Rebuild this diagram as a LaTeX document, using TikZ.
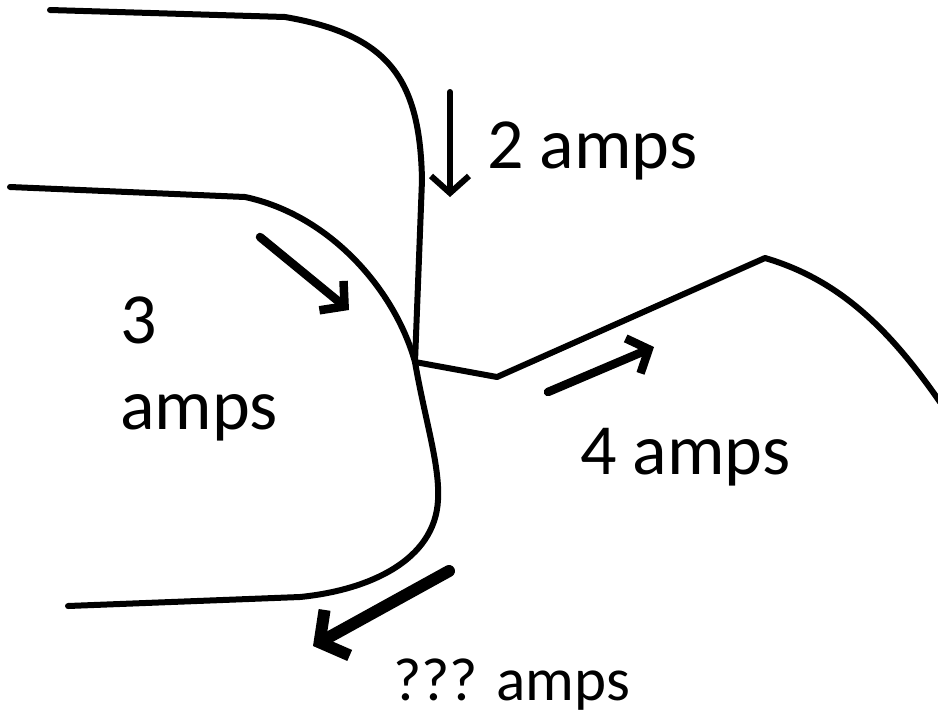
\documentclass[tikz,border=0pt]{standalone}
\usepackage{fontspec}
\setmainfont{Carlito}
\usetikzlibrary{arrows.meta,positioning}
\tikzstyle{wire} = [draw, line width=6pt, line join=round, line cap=round]
\tikzstyle{current} = [draw, line width=8.5pt, line cap=round, line join=round, -{Straight Barb[length=17pt, width=38pt]}]
\tikzstyle{amplabel} = [draw=none, fill=none, inner sep=0pt, anchor=base west, font=\fontsize{72}{83}\selectfont]

\begin{document}
\begin{tikzpicture}[x=1pt, y=-1pt]
\useasboundingbox (0,0) rectangle (938,716);

% wires =============================
\coordinate (junction) at (415,362);
\coordinate (topend) at (50,10);
\coordinate (leftend) at (10,187);
\coordinate (bottomend) at (68,606);
\coordinate (rightend) at (940,402);
\draw[wire] (topend) -- (285,17) .. controls (390,35) and (420,80) .. (422,180) -- (junction);
\draw[wire] (leftend) -- (245,197) .. controls (330,215) and (395,290) .. (junction);
\draw[wire] (junction) .. controls (425,420) and (440,465) .. (438,500)
  .. controls (435,560) and (370,590) .. (300,597) -- (bottomend);
\draw[wire] (junction) -- (497,377) -- (765,258) .. controls (840,280) and (890,330) .. (rightend);

% currents
\coordinate (in2a) at (450,92);   \coordinate (in2b) at (450,197);
\coordinate (in3a) at (260,237);  \coordinate (in3b) at (349,310);
\coordinate (out4a) at (548,392); \coordinate (out4b) at (654,347);
\coordinate (outxa) at (449,571); \coordinate (outxb) at (313,646);
\path[current, line width=6pt] (in2a) -- (in2b);
\path[current] (in3a) -- (in3b);
\path[current] (out4a) -- (out4b);
\path[current, line width=12pt, -{Straight Barb[length=20pt, width=52pt]}] (outxa) -- (outxb);

% labels
\node[amplabel] (amps2) at (487,168) {2 amps};
\node[amplabel, align=left, anchor=north west, font=\fontsize{72}{86}\selectfont] (amps3) at (120,297) {3\\amps};
\node[amplabel] (amps4) at (580,474) {4 amps};
\node[amplabel, font=\fontsize{61}{73}\selectfont] (ampsx) at (393,700) {??? amps};

\end{tikzpicture}
\end{document}
